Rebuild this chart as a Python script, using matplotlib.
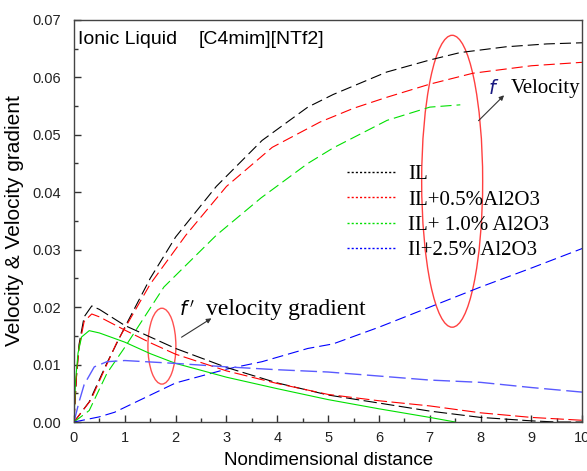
import matplotlib
matplotlib.use('Agg')
import matplotlib.pyplot as plt
from matplotlib.lines import Line2D
from matplotlib.patches import Ellipse

# velocity f
x_vel_il = [0, 0.3, 0.65, 1, 1.5, 2, 2.8, 3.7, 4.6, 5.1, 6.15, 7, 7.6, 8.5, 9.3, 10]
vel_il = [0, 0.0035, 0.0103, 0.0165, 0.025, 0.0322, 0.041, 0.049, 0.0548, 0.057, 0.0609,
          0.063, 0.0643, 0.0653, 0.0658, 0.066]
x_vel_05 = [0, 0.33, 0.85, 1.5, 2.2, 3.0, 3.9, 4.84, 5.5, 6.15, 7, 7.85, 9, 10]
vel_05 = [0, 0.0038, 0.014, 0.024, 0.0325, 0.041, 0.0478, 0.0522, 0.0546, 0.0565, 0.0588,
          0.0607, 0.062, 0.0626]
x_vel_10 = [0, 0.3, 0.65, 1, 1.77, 2.8, 3.68, 4.6, 5.1, 6.16, 7.0, 7.6]
vel_10 = [0, 0.002, 0.0085, 0.013, 0.0235, 0.0325, 0.039, 0.045, 0.0477, 0.0525, 0.0548, 0.0552]
x_vel_25 = [0, 0.5, 0.8, 2, 3, 3.7, 4.6, 5.1, 6, 6.8, 8, 9, 10]
vel_25 = [0, 0.0009, 0.0017, 0.0068, 0.0092, 0.0105, 0.0128, 0.0136, 0.0165, 0.0193, 0.0235,
          0.0268, 0.0302]

# velocity gradient f'
x_grad_il = [0, 0.05, 0.1, 0.2, 0.35, 0.5, 1, 1.5, 2, 3, 4, 5, 6, 7, 8, 9, 9.5, 10]
grad_il = [0, 0.008, 0.0135, 0.0183, 0.0202, 0.0196, 0.0168, 0.0148, 0.0128, 0.0095, 0.0068,
           0.0047, 0.0033, 0.0019, 0.0008, 0.0002, 0.0, 0.0]
x_grad_05 = [0, 0.05, 0.1, 0.2, 0.35, 0.5, 1, 1.5, 2, 3, 4, 5, 6, 7, 8, 9, 10]
grad_05 = [0, 0.008, 0.013, 0.0175, 0.0188, 0.0183, 0.016, 0.0138, 0.0118, 0.0089, 0.0067,
           0.0048, 0.0037, 0.0028, 0.0016, 0.0008, 0.0003]
x_grad_10 = [0, 0.03, 0.08, 0.15, 0.3, 0.5, 1, 1.5, 2, 3, 4, 5, 6, 7, 7.5]
grad_10 = [0, 0.007, 0.012, 0.0148, 0.0159, 0.0155, 0.0139, 0.0119, 0.0102, 0.0078, 0.0058,
           0.0039, 0.0023, 0.0008, 0.0]
x_grad_25 = [0, 0.1, 0.2, 0.4, 0.65, 1, 2, 3, 4, 5, 6, 7, 8, 9, 10]
grad_25 = [0, 0.0035, 0.0065, 0.0096, 0.0105, 0.0107, 0.0102, 0.0096, 0.0091, 0.0087, 0.008,
           0.0073, 0.0069, 0.006, 0.0052]

labels = ['IL', 'IL+0.5%Al2O3', 'IL+ 1.0% Al2O3', 'Il+2.5% Al2O3']
colors = ['black', 'red', '#00e000', 'blue']

fig = plt.figure(figsize=(5.87, 4.71), dpi=100)
ax = fig.add_axes([0.126, 0.104, 0.866, 0.854])

dash = (0, (10, 4.5))
lw = 0.8
ax.plot(x_vel_il, vel_il, color='black', lw=lw, linestyle=dash)
ax.plot(x_vel_05, vel_05, color='red', lw=lw, linestyle=dash)
ax.plot(x_vel_10, vel_10, color='#00e000', lw=lw, linestyle=dash)
ax.plot(x_vel_25, vel_25, color='blue', lw=lw, linestyle=dash)

ax.plot(x_grad_il, grad_il, color='black', lw=lw, linestyle=(0, (12, 4)))
ax.plot(x_grad_05, grad_05, color='red', lw=lw, linestyle=(0, (12, 4)))
ax.plot(x_grad_10, grad_10, color='#00e000', lw=lw)
ax.plot(x_grad_25, grad_25, color='#5a5aff', lw=1.0, linestyle=(0, (12, 4)))

# red ellipses marking the two groups of curves
ax.add_patch(Ellipse((7.44, 0.0419), 1.2, 0.0508, fill=False, edgecolor='#ff4040', lw=1.0))
ax.add_patch(Ellipse((1.73, 0.0132), 0.55, 0.0132, fill=False, edgecolor='#ff5050', lw=1.0))

serif = 'Liberation Serif'
ax.annotate('', xy=(8.5, 0.0572), xytext=(7.92, 0.0521),
            arrowprops=dict(arrowstyle='-|>', color='#333333', lw=0.8, mutation_scale=7))
ax.text(8.15, 0.058, r'$f$', fontsize=14, color='#1a1a80', va='center', ha='left')
ax.text(8.6, 0.058, 'Velocity', fontsize=15, family=serif, va='center', ha='left')

ax.annotate('', xy=(2.75, 0.0183), xytext=(2.07, 0.0145),
            arrowprops=dict(arrowstyle='-|>', color='#333333', lw=0.8, mutation_scale=7))
ax.text(2.07, 0.0195, r"$f\,'$", fontsize=14, va='center', ha='left')
ax.text(2.6, 0.0195, 'velocity gradient', fontsize=17, family=serif, va='center', ha='left')

ax.text(0.08, 0.0665, 'Ionic Liquid', fontsize=14, family='Liberation Sans',
        va='center', ha='left')
ax.text(2.46, 0.0665, '[C4mim][NTf2]', fontsize=14, family='Liberation Sans',
        va='center', ha='left')

handles = [Line2D([], [], color=c, lw=1.0, linestyle=(0, (1.5, 1.5))) for c in colors]
leg = ax.legend(handles, labels, loc='upper left', bbox_to_anchor=(0.537, 0.64),
                frameon=False, prop={'family': serif, 'size': 15}, handlelength=2.4,
                handletextpad=0.53, labelspacing=0.28, borderaxespad=0, borderpad=0)

ax.set_xlim(0, 10)
ax.set_ylim(0, 0.07)
ax.set_xticks(range(0, 11))
ax.set_xticks([i + 0.5 for i in range(10)], minor=True)
ax.set_yticks([0, 0.01, 0.02, 0.03, 0.04, 0.05, 0.06, 0.07])
ax.set_yticks([0.005, 0.015, 0.025, 0.035, 0.045, 0.055, 0.065], minor=True)
ax.yaxis.set_major_formatter(matplotlib.ticker.FormatStrFormatter('%.2f'))
ax.tick_params(which='major', direction='in', length=5, width=1, labelsize=10.5,
               labelcolor='#222222', colors='#333333')
ax.tick_params(axis='y', which='major', pad=9)
ax.tick_params(axis='x', which='major', pad=6.5)
ax.tick_params(which='minor', direction='in', length=3, width=1, colors='#333333')
for label in ax.get_xticklabels() + ax.get_yticklabels():
    label.set_family('Liberation Sans')
for s in ax.spines.values():
    s.set_color('#444444')
    s.set_linewidth(1.0)

ax.set_xlabel('Nondimensional distance', fontsize=13.5, family='Liberation Sans', labelpad=5)
ax.set_ylabel('Velocity & Velocity gradient', fontsize=15, family='Liberation Sans',
              labelpad=6)

fig.savefig('out.png', dpi=100)
